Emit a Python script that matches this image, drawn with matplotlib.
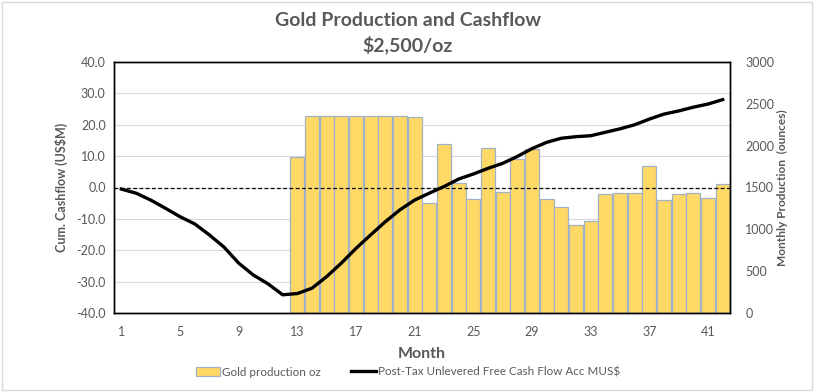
import matplotlib
matplotlib.use("Agg")
import matplotlib.pyplot as plt
from matplotlib.patches import Rectangle
import numpy as np

plt.rcParams['font.family'] = ['Lato', 'DejaVu Sans']

months = list(range(1, 43))
prod_months = list(range(13, 43))
gold_oz = [1860, 2360, 2360, 2360, 2360, 2360, 2360, 2360, 2340, 1310,
           2020, 1550, 1360, 1975, 1450, 1835, 1965, 1365, 1265, 1055,
           1095, 1420, 1435, 1435, 1760, 1355, 1420, 1440, 1380, 1540]
cum_cf = [-0.5, -1.8, -4.0, -6.6, -9.3, -11.6, -15.1, -19.0, -24.1, -27.9,
          -30.7, -34.2, -33.8, -32.1, -28.4, -24.1, -19.4, -15.1, -10.9, -7.1,
          -4.0, -1.8, 0.3, 2.7, 4.3, 6.1, 7.7, 9.9, 12.4, 14.4,
          15.7, 16.2, 16.5, 17.6, 18.7, 20.0, 21.8, 23.4, 24.4, 25.6,
          26.6, 28.0]
xticks = [1, 5, 9, 13, 17, 21, 25, 29, 33, 37, 41]
left_ticks = [-40, -30, -20, -10, 0, 10, 20, 30, 40]
right_ticks = [0, 500, 1000, 1500, 2000, 2500, 3000]

gray = "#595959"

fig = plt.figure(figsize=(8.16, 3.92), dpi=100)
fig.patches.append(Rectangle((0.003, 0.004), 0.992, 0.99, transform=fig.transFigure,
                             fill=False, edgecolor="#D9D9D9", linewidth=1.0))

pos = [114/816, 1-313/392, (730-114)/816, (313-62)/392]
axb = fig.add_axes(pos)          # bars (right axis)
axl = fig.add_axes(pos, sharex=axb)
axl.set_zorder(axb.get_zorder() + 1)
axl.patch.set_visible(False)

# bars
axb.bar(prod_months, gold_oz, width=0.95, color="#FFD966", edgecolor="#A3B1C6",
        linewidth=0.9, zorder=2, label="Gold production oz")
axb.set_ylim(0, 3000)
axb.set_xlim(0.5, 42.5)
axb.yaxis.tick_right()
axb.yaxis.set_label_position("right")
axb.set_yticks(right_ticks)
axb.set_yticklabels([str(v) for v in right_ticks])
axb.set_ylabel("Monthly Production  (ounces)", color=gray, fontsize=8.6,
               fontweight="bold", labelpad=2)

# line axis (left)
axl.plot(months, cum_cf, color="black", linewidth=2.4, zorder=3,
         label="Post-Tax Unlevered Free Cash Flow Acc MUS$")
axl.axhline(0, color="black", linestyle=(0, (3, 2)), linewidth=0.9, zorder=2)
axl.set_ylim(-40, 40)
axl.set_yticks(left_ticks)
axl.set_yticklabels([f"{v:.1f}" for v in left_ticks])
axl.set_ylabel("Cum. Cashflow (US$M)", color=gray, fontsize=9,
               fontweight="bold", labelpad=6)
axl.set_xticks(xticks)
axl.set_xticklabels([str(v) for v in xticks])
axl.set_xlabel("Month", color=gray, fontsize=11.5, fontweight="bold", labelpad=7)

# gridlines behind bars at left-axis ticks
for v in left_ticks[1:-1]:
    yr = axb.transData.inverted().transform(axl.transData.transform((1, v)))[1]
    axb.axhline(yr, color="#D9D9D9", linewidth=0.8, zorder=1)

for ax in (axb, axl):
    ax.tick_params(length=0, colors=gray, labelsize=9)
    for s in ax.spines.values():
        s.set_color("black")
        s.set_linewidth(1.0)
axl.tick_params(axis="x", pad=9)
axl.tick_params(axis="y", pad=6)
axb.tick_params(axis="y", pad=11)
axb.tick_params(axis="x", labelbottom=False)

fig.text(0.5, 1-20/392, "Gold Production and Cashflow", ha="center", va="center",
         fontsize=14, fontweight="bold", color=gray)
fig.text(0.5, 1-45/392, "$2,500/oz", ha="center", va="center",
         fontsize=14, fontweight="bold", color=gray)

h1, l1 = axb.get_legend_handles_labels()
h2, l2 = axl.get_legend_handles_labels()
fig.legend(h1 + h2, l1 + l2, loc="center", bbox_to_anchor=(0.5, 1-372/392),
           ncol=2, frameon=False, fontsize=8.4, labelcolor=gray,
           handlelength=2.1, handletextpad=0.2, columnspacing=2.6)

fig.savefig("out.png", dpi=100)
